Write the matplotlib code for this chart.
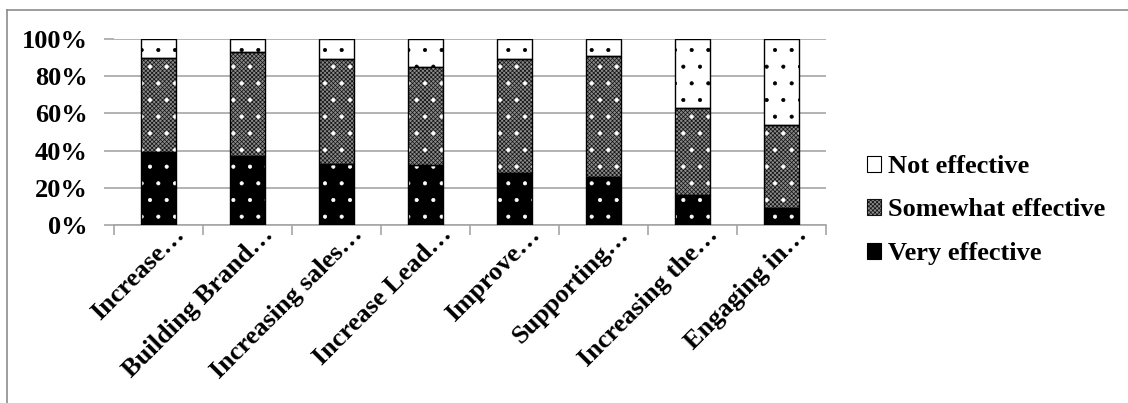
import matplotlib
matplotlib.use("Agg")
import matplotlib.pyplot as plt
import matplotlib.patches as mpatches
import matplotlib.transforms as mtransforms
from matplotlib.lines import Line2D
import numpy as np

categories = ["Increase…", "Building Brand…", "Increasing sales…", "Increase Lead…",
              "Improve…", "Supporting…", "Increasing the…", "Engaging in…"]
very_effective = [39, 37, 33, 32, 28, 26, 16, 9]
somewhat_effective = [51, 56, 56, 53, 61, 65, 47, 45]
not_effective = [10, 7, 11, 15, 11, 9, 37, 46]
y_ticks = [0, 20, 40, 60, 80, 100]

plt.rcParams['font.family'] = ['Liberation Serif', 'DejaVu Serif']
plt.rcParams['font.weight'] = 'bold'
plt.rcParams['hatch.linewidth'] = 0.5

fig = plt.figure(figsize=(11.28, 4.03), dpi=100)
ax = fig.add_axes([114 / 1128, (403 - 225) / 403, 712 / 1128, 186 / 403])

x = np.arange(len(categories))
very = np.array(very_effective)
some = np.array(somewhat_effective)
notv = np.array(not_effective)
w = 0.4

# base fills
ax.bar(x, very, w, color='black', edgecolor='white', hatch='.', linewidth=0, zorder=3)
ax.bar(x, some, w, bottom=very, color='#8a8a8a', edgecolor='#111111', hatch='xxxxxxxx',
       linewidth=0, zorder=3)
ax.bar(x, some, w, bottom=very, color='none', edgecolor='white', hatch='.',
       linewidth=0, zorder=3)
ax.bar(x, notv, w, bottom=very + some, color='white', edgecolor='black', hatch='.',
       linewidth=0, zorder=3)
# outlines
for b, h in [(0, very), (very, some), (very + some, notv)]:
    ax.bar(x, h, w, bottom=b, fill=False, edgecolor='black', linewidth=1.0, zorder=4)

ax.set_xlim(-0.5, len(categories) - 0.5)
ax.set_ylim(0, 100)
ax.set_yticks(y_ticks)
ax.set_yticklabels([f"{t}%" for t in y_ticks], fontsize=19, fontweight='bold')
ax.yaxis.grid(True, color='#a6a6a6', linewidth=1.2, zorder=0)
ax.tick_params(axis='y', length=7, color='#a6a6a6', width=1.2, pad=12)

ax.set_xticks(x)
ax.set_xticks(np.arange(len(categories) + 1) - 0.5, minor=True)
ax.tick_params(axis='x', which='major', length=0, pad=2)
ax.tick_params(axis='x', which='minor', length=7, color='#a6a6a6', width=1.2)
ax.set_xticklabels(categories, rotation=45, ha='right', va='top',
                   rotation_mode='anchor', fontsize=19, fontweight='bold')
shift = mtransforms.ScaledTranslation(14 / 100, 5 / 100, fig.dpi_scale_trans)
for lab in ax.get_xticklabels():
    lab.set_transform(lab.get_transform() + shift)

for s in ['top', 'right', 'left']:
    ax.spines[s].set_visible(False)
ax.spines['bottom'].set_color('#a6a6a6')
ax.spines['bottom'].set_linewidth(1.2)

# legend handles
h_not = mpatches.Patch(facecolor='white', edgecolor='black', linewidth=0.8)
h_some = mpatches.Patch(facecolor='#8a8a8a', edgecolor='#111111', hatch='xxxxxxxx', linewidth=0.8)
h_very = mpatches.Patch(facecolor='black', edgecolor='black', linewidth=0.8)
fig.legend([h_not, h_some, h_very], ["Not effective", "Somewhat effective", "Very effective"],
           loc='center left', bbox_to_anchor=(843 / 1128, (403 - 210) / 403),
           frameon=False, prop={'family': 'Liberation Serif', 'weight': 'bold', 'size': 19},
           handlelength=0.55, handleheight=0.55, handletextpad=0.25, labelspacing=0.78)

# chart frame (top and left edges)
fig.add_artist(Line2D([7 / 1128, 1], [1 - 9.5 / 403, 1 - 9.5 / 403],
                      color='#8c8c8c', linewidth=1.2, transform=fig.transFigure))
fig.add_artist(Line2D([7 / 1128, 7 / 1128], [0, 1 - 9.5 / 403],
                      color='#8c8c8c', linewidth=1.2, transform=fig.transFigure))

fig.savefig("out.png", dpi=100)
